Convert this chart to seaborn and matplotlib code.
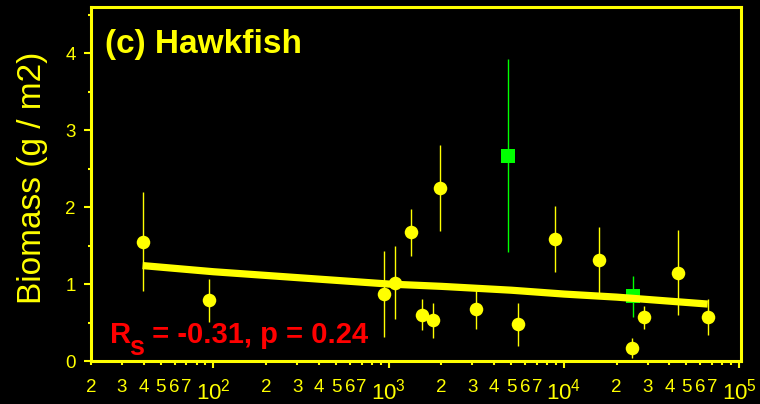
import numpy as np
import pandas as pd
import matplotlib
matplotlib.use("Agg")
import matplotlib.pyplot as plt
import seaborn as sns
from matplotlib.ticker import FixedLocator, FixedFormatter

# ---- data ----
site_x = [39.4, 94.1, 942, 1089, 1343, 1545, 1799, 1963, 3155, 4820,
          5448, 8934, 15780, 24770, 24450, 28500, 44970, 66070]
biomass = [1.55, 0.79, 0.87, 1.02, 1.67, 0.60, 0.53, 2.25, 0.67, 2.67,
           0.48, 1.59, 1.31, 0.84, 0.17, 0.57, 1.15, 0.57]
err = [0.64, 0.28, 0.56, 0.47, 0.30, 0.20, 0.23, 0.56, 0.26, 1.26,
       0.28, 0.43, 0.43, 0.27, 0.13, 0.15, 0.55, 0.23]
group = ["circle"] * 9 + ["square"] + ["circle"] * 3 + ["square"] + ["circle"] * 4

fit_x = [39.4, 100, 1000, 2000, 5000, 10000, 20000, 66070]
fit_y = [1.24, 1.16, 1.00, 0.97, 0.92, 0.87, 0.83, 0.74]

major_ticks = [100, 1000, 10000, 100000]
major_labels = [r"$10^{2}$", r"$10^{3}$", r"$10^{4}$", r"$10^{5}$"]
minor_ticks = [m * 10 ** e for e in range(1, 5) for m in range(2, 10) if m * 10 ** e >= 20]
minor_labels = [str(int(str(t)[0])) if int(str(t)[0]) <= 7 else "" for t in minor_ticks]

title_text = "(c) Hawkfish"
stat_main, stat_sub, stat_rest = "R", "s", " = -0.31, p = 0.24"
ylabel_text = "Biomass (g / m2)"

YEL = "#FFFF00"
GRN = "#00FF00"
RED = "#FF0000"

sns.set_style("dark", {"axes.facecolor": "black", "figure.facecolor": "black"})
plt.rcParams["font.family"] = ["Liberation Sans", "DejaVu Sans"]
plt.rcParams["mathtext.default"] = "regular"

df = pd.DataFrame({"x": site_x, "y": biomass, "err": err, "group": group})
fit_df = pd.DataFrame({"x": fit_x, "y": fit_y})

fig = plt.figure(figsize=(7.6, 4.04), dpi=100, facecolor="black")
ax = fig.add_axes([91 / 760, 1 - 361 / 404, 650 / 760, 354 / 404])
ax.set_facecolor("black")

# error bars
for g, col in [("circle", YEL), ("square", GRN)]:
    sub = df[df.group == g]
    ax.errorbar(sub.x, sub.y, yerr=sub.err, fmt="none", ecolor=col,
                elinewidth=1.0, capsize=0, zorder=2)

# squares under the fit line, circles on top
sq = df[df.group == "square"]
sns.scatterplot(data=sq, x="x", y="y", marker="s", s=95, color=GRN,
                linewidth=0, ax=ax, zorder=3, legend=False)
sns.lineplot(data=fit_df, x="x", y="y", color=YEL, linewidth=5.2, ax=ax,
             zorder=4, legend=False, solid_capstyle="butt")
ci = df[df.group == "circle"]
sns.scatterplot(data=ci, x="x", y="y", marker="o", s=95, color=YEL,
                linewidth=0, ax=ax, zorder=5, legend=False)

ax.set_xscale("log")
ax.set_xlim(20, 1.024e5)
ax.set_ylim(0, 4.6)

ax.xaxis.set_major_locator(FixedLocator(major_ticks))
ax.xaxis.set_major_formatter(FixedFormatter(major_labels))
ax.xaxis.set_minor_locator(FixedLocator(minor_ticks))
ax.xaxis.set_minor_formatter(FixedFormatter(minor_labels))
ax.set_yticks([0, 1, 2, 3, 4])
ax.set_yticks(np.arange(0.5, 4.6, 1.0), minor=True)
ax.set_yticklabels(["0", "1", "2", "3", "4"])

ax.tick_params(axis="x", which="major", direction="out", length=5, width=1.5,
               colors=YEL, labelsize=16, pad=7.5, bottom=True)
ax.tick_params(axis="x", which="minor", direction="out", length=3, width=1.5,
               colors=YEL, labelsize=13.5, pad=10, bottom=True)
ax.tick_params(axis="y", which="major", direction="out", length=5, width=1.5,
               colors=YEL, labelsize=13.5, pad=6, left=True)
ax.tick_params(axis="y", which="minor", direction="out", length=2.5, width=1.5,
               colors=YEL, left=True)

for sp in ax.spines.values():
    sp.set_visible(True)
    sp.set_color(YEL)
    sp.set_linewidth(2.2)
ax.grid(False)

ax.set_xlabel("")
ax.set_ylabel(ylabel_text, color=YEL, fontsize=24)
ax.yaxis.set_label_coords(-0.066, 0.518)

ax.text(0.0215, 0.870, title_text, transform=ax.transAxes, color=YEL,
        fontsize=24, fontweight="bold", ha="left", va="baseline")

# statistic text with a large, lowered subscript
fig.canvas.draw()
rend = fig.canvas.get_renderer()
x0, y0 = 0.029, 0.050
tR = ax.text(x0, y0, stat_main, transform=ax.transAxes, color=RED,
             fontsize=21, fontweight="bold", ha="left", va="baseline", zorder=6)
bbR = tR.get_window_extent(rend)
base_disp = ax.transAxes.transform((x0, y0))
inv = ax.transAxes.inverted()
sx, sy = inv.transform((bbR.x1 - 2, base_disp[1] - 12))
tS = ax.text(sx, sy, stat_sub, transform=ax.transAxes, color=RED,
             fontsize=19.5, fontweight="bold", ha="left", va="baseline", zorder=6)
bbS = tS.get_window_extent(rend)
rx, ry = inv.transform((bbS.x1, base_disp[1]))
ax.text(rx, ry, stat_rest, transform=ax.transAxes, color=RED,
        fontsize=21, fontweight="bold", ha="left", va="baseline", zorder=6)

fig.savefig("out.png", dpi=100, facecolor="black")
